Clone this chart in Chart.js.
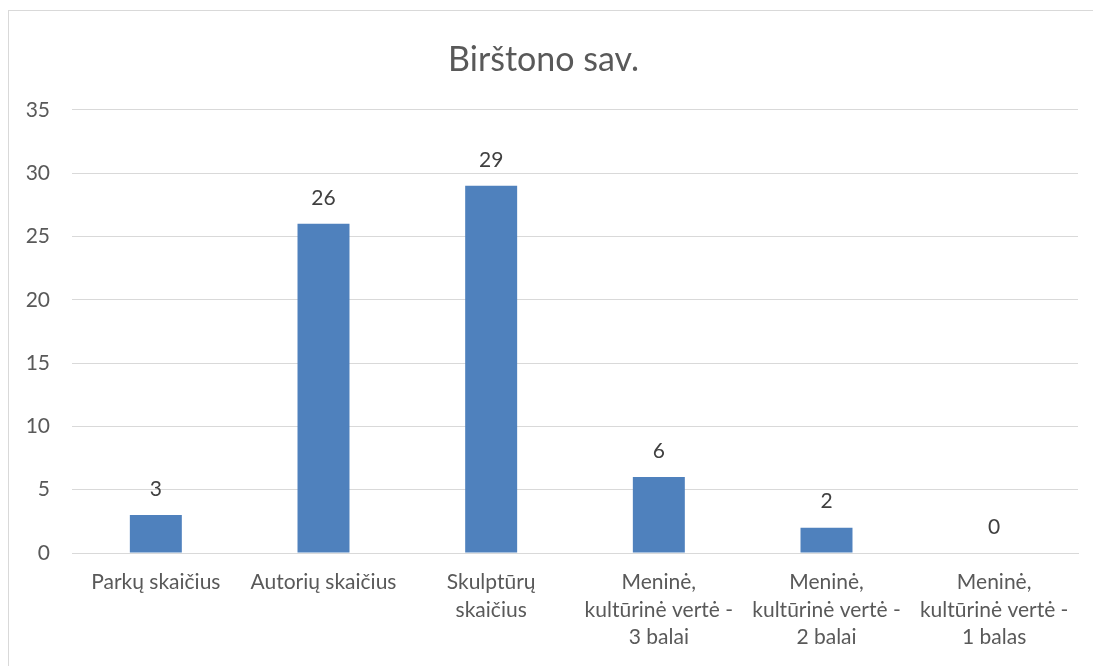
<!DOCTYPE html>
<html>
<head>
<meta charset="utf-8">
<script src="https://cdn.jsdelivr.net/npm/chart.js@4/dist/chart.umd.min.js"></script>
<style>
  html, body { margin: 0; padding: 0; background: #fff; overflow: hidden; }
  #frame { position: absolute; left: 8px; top: 10px; width: 1100px; height: 670px;
           border-left: 1px solid #d9d9d9; border-top: 1px solid #d9d9d9; }
  #wrap { position: absolute; left: 0; top: 0; width: 1085px; height: 655px; }
</style>
</head>
<body>
<div id="frame"><div id="wrap"><canvas id="chart"></canvas></div></div>
<script>
// duomenys
var categories = [
  "Parkų skaičius",
  "Autorių skaičius",
  ["Skulptūrų", "skaičius"],
  ["Meninė,", "kultūrinė vertė -", "3 balai"],
  ["Meninė,", "kultūrinė vertė -", "2 balai"],
  ["Meninė,", "kultūrinė vertė -", "1 balas"]
];
var values = [3, 26, 29, 6, 2, 0];
var chartTitle = "Birštono sav.";
var yTicks = [0, 5, 10, 15, 20, 25, 30, 35];

var fontFam = "Lato, 'Open Sans', sans-serif";

// reikšmės virš stulpelių
var valueLabels = {
  id: 'valueLabels',
  afterDatasetsDraw: function(chart){
    var ctx = chart.ctx;
    var meta = chart.getDatasetMeta(0);
    ctx.save();
    ctx.font = "21px " + fontFam;
    ctx.fillStyle = "#404040";
    ctx.textAlign = "center";
    ctx.textBaseline = "middle";
    meta.data.forEach(function(bar, i){
      ctx.fillText(String(values[i]), bar.x, bar.y - 26);
    });
    ctx.restore();
  }
};

var line_chart = new Chart(document.getElementById("chart"), {
  type: 'bar',
  data: {
    labels: categories,
    datasets: [{
      data: values,
      backgroundColor: '#4F81BD',
      borderWidth: 0,
      barPercentage: 0.62,
      categoryPercentage: 0.5
    }]
  },
  options: {
    responsive: true,
    maintainAspectRatio: false,
    animation: false,
    layout: { padding: { left: 0, right: 16, top: 0, bottom: 0 } },
    plugins: {
      legend: { display: false },
      tooltip: { enabled: false },
      title: {
        display: true,
        text: chartTitle,
        color: '#595959',
        font: { family: fontFam, size: 34, weight: 'normal' },
        padding: { top: 29, bottom: 29 }
      }
    },
    scales: {
      x: {
        grid: { display: false, drawTicks: false },
        border: { display: true, color: '#d9d9d9', width: 1 },
        ticks: {
          color: '#595959',
          font: { family: fontFam, size: 21, lineHeight: 1.3 },
          padding: 16,
          maxRotation: 0,
          autoSkip: false
        },
        afterFit: function(scale){ scale.height = 113; }
      },
      y: {
        min: 0,
        max: 35,
        afterBuildTicks: function(scale){
          scale.ticks = yTicks.map(function(v){ return { value: v }; });
        },
        grid: { color: '#d9d9d9', drawTicks: false },
        border: { display: false },
        ticks: {
          color: '#595959',
          font: { family: fontFam, size: 21 },
          padding: 22
        },
        afterFit: function(scale){ scale.width = 63; }
      }
    }
  },
  plugins: [valueLabels]
});
</script>
</body>
</html>
